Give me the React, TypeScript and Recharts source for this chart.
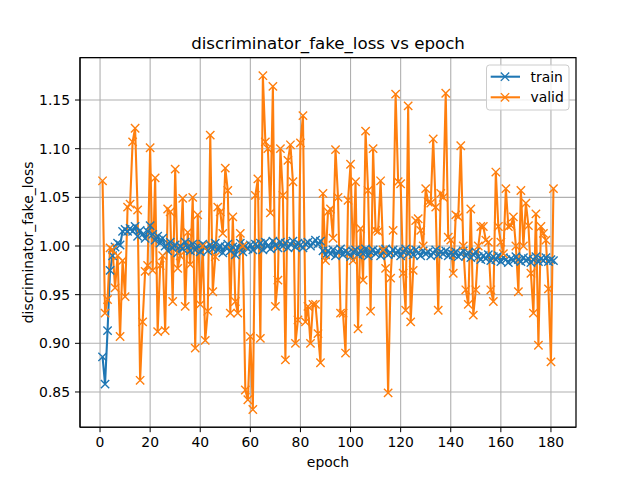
import { LineChart, Line, XAxis, YAxis, CartesianGrid, ReferenceArea } from "recharts"

// loss per epoch
const trainLoss = [
  0.886, 0.858, 0.913, 0.975, 0.990, 0.999, 1.003, 1.001, 1.015, 1.017,
  1.015, 1.018, 1.015, 1.020, 1.010, 1.016, 1.012, 1.008, 1.015, 1.021,
  1.012, 1.006, 1.010, 1.003, 1.008, 1.000, 0.995, 1.004, 0.998, 1.001,
  0.993, 1.000, 0.997, 1.004, 0.999, 0.995, 1.002, 0.996, 1.000, 0.994,
  1.002, 0.998, 0.995, 1.001, 0.997, 1.003, 0.996, 1.000, 0.993, 0.999,
  1.002, 0.995, 0.999, 0.991, 0.998, 1.003, 0.994, 1.000, 0.997, 1.001,
  0.996, 1.002, 0.999, 1.003, 0.996, 1.004, 1.000, 0.997, 1.005, 1.001,
  0.998, 1.004, 1.000, 1.003, 0.998, 1.002, 1.005, 0.999, 1.003, 1.001,
  0.998, 1.002, 1.004, 1.000, 1.003, 1.006, 1.002, 1.005, 0.995, 0.991,
  0.995, 0.992, 0.996, 0.990, 0.994, 0.997, 0.991, 0.995, 0.993, 0.989,
  0.994, 0.996, 0.991, 0.995, 0.992, 0.997, 0.990, 0.994, 0.996, 0.992,
  0.995, 0.990, 0.994, 0.997, 0.991, 0.993, 0.996, 0.992, 0.995, 0.990,
  0.994, 0.997, 0.992, 0.995, 0.991, 0.996, 0.993, 0.990, 0.995, 0.992,
  0.994, 0.990, 0.993, 0.996, 0.991, 0.994, 0.992, 0.995, 0.990, 0.993,
  0.991, 0.994, 0.989, 0.992, 0.995, 0.990, 0.993, 0.988, 0.991, 0.994,
  0.989, 0.986, 0.990, 0.987, 0.991, 0.985, 0.989, 0.986, 0.990, 0.984,
  0.988, 0.986, 0.983, 0.987, 0.985, 0.989, 0.986, 0.984, 0.988, 0.985,
  0.987, 0.983, 0.986, 0.989, 0.984, 0.987, 0.985, 0.988, 0.984, 0.986,
  0.985,
]

const validLoss = [
  1.067, 0.931, 0.945, 0.998, 0.996, 0.957, 0.990, 0.907, 0.985, 0.948,
  1.040, 1.043, 1.107, 1.121, 1.037, 0.862, 0.922, 0.974, 0.980, 1.101,
  0.975, 1.070, 0.912, 0.980, 0.990, 0.913, 1.038, 1.035, 0.943, 1.079,
  0.977, 0.990, 1.049, 0.938, 1.014, 0.981, 1.050, 0.895, 1.032, 0.940,
  1.000, 0.903, 0.933, 1.114, 0.953, 0.989, 1.040, 1.035, 1.013, 1.080,
  1.057, 0.931, 1.030, 0.943, 0.931, 1.013, 1.000, 0.852, 0.842, 0.907,
  0.832, 1.052, 1.069, 0.905, 1.175, 1.107, 1.100, 1.034, 1.164, 0.938,
  0.965, 1.100, 1.052, 0.883, 1.088, 1.104, 1.066, 0.900, 0.924, 1.106,
  1.134, 0.922, 0.938, 0.900, 0.940, 0.940, 0.910, 0.880, 1.054, 0.985,
  1.035, 1.038, 1.008, 1.099, 1.050, 0.931, 0.931, 0.890, 1.047, 1.084,
  0.985, 1.066, 0.915, 1.018, 0.965, 1.118, 1.057, 0.933, 1.100, 1.016,
  1.015, 1.067, 0.996, 0.977, 0.849, 0.967, 1.016, 1.156, 1.066, 1.064,
  0.972, 0.934, 1.144, 0.922, 0.975, 1.026, 1.028, 1.016, 1.000, 1.059,
  1.045, 1.044, 1.110, 1.040, 0.934, 1.054, 1.050, 1.157, 1.009, 1.006,
  0.972, 1.032, 1.030, 1.103, 1.000, 0.955, 0.940, 1.038, 0.929, 0.955,
  1.000, 1.020, 1.020, 1.006, 1.004, 0.955, 0.943, 1.076, 1.020, 1.004,
  0.992, 1.059, 1.020, 1.021, 1.030, 1.000, 0.953, 1.057, 1.000, 1.044,
  1.021, 0.972, 0.931, 1.033, 0.898, 1.020, 1.013, 1.006, 0.956, 0.881,
  1.059,
]

const epochs = trainLoss.map((_, i) => i + 1)
const xTicks = [0, 20, 40, 60, 80, 100, 120, 140, 160, 180]
const yTicks = [0.85, 0.9, 0.95, 1.0, 1.05, 1.1, 1.15]

const data = epochs.map((epoch, i) => ({
  epoch,
  train: trainLoss[i],
  valid: validLoss[i],
}))

const X_DOMAIN: [number, number] = [-8, 190]
const Y_DOMAIN: [number, number] = [0.8138, 1.1936]

const FONT = "'DejaVu Sans', sans-serif"
const BLUE = "#1f77b4"
const ORANGE = "#ff7f0e"

function XMarker(props: any) {
  const { cx, cy, stroke, index } = props
  if (cx == null || cy == null) return <g key={index} />
  const r = 4.17
  return (
    <path
      key={index}
      d={`M${cx - r},${cy - r}L${cx + r},${cy + r}M${cx - r},${cy + r}L${cx + r},${cy - r}`}
      stroke={stroke}
      strokeWidth={1.4}
      fill="none"
    />
  )
}

function LegendRow({ y, color, label }: { y: number; color: string; label: string }) {
  const r = 4.17
  const cx = 18.5
  return (
    <g>
      <line x1={4.2} y1={y} x2={33.5} y2={y} stroke={color} strokeWidth={2.08} />
      <path
        d={`M${cx - r},${y - r}L${cx + r},${y + r}M${cx - r},${y + r}L${cx + r},${y - r}`}
        stroke={color}
        strokeWidth={1.4}
      />
      <text x={44} y={y} dominantBaseline="central" fontSize={13.9} fill="#000">
        {label}
      </text>
    </g>
  )
}

export default function App() {
  const tickStyle = { fontSize: 13.9, fill: "#000", fontFamily: FONT }
  return (
    <div style={{ position: "absolute", left: 0, top: 0, width: 640, height: 480, background: "#fff", fontFamily: FONT }}>
      <LineChart width={640} height={480} data={data} margin={{ top: 57.6, right: 64, bottom: 22.8, left: 20 }}>
        <CartesianGrid stroke="#b0b0b0" strokeWidth={1.1} />
        <XAxis
          dataKey="epoch"
          type="number"
          domain={X_DOMAIN}
          ticks={xTicks}
          allowDataOverflow
          height={30}
          tick={tickStyle}
          tickSize={5}
          tickMargin={5}
          tickLine={{ stroke: "#000" }}
          axisLine={{ stroke: "#000" }}
        />
        <YAxis
          type="number"
          domain={Y_DOMAIN}
          ticks={yTicks}
          allowDataOverflow
          width={60}
          tick={tickStyle}
          tickSize={5}
          tickMargin={5}
          tickLine={{ stroke: "#000" }}
          axisLine={{ stroke: "#000" }}
          tickFormatter={(v: number) => v.toFixed(2)}
        />
        <Line
          dataKey="train"
          stroke={BLUE}
          strokeWidth={2.08}
          dot={XMarker}
          activeDot={false}
          isAnimationActive={false}
        />
        <Line
          dataKey="valid"
          stroke={ORANGE}
          strokeWidth={2.08}
          dot={XMarker}
          activeDot={false}
          isAnimationActive={false}
        />
        <ReferenceArea
          x1={X_DOMAIN[0]}
          x2={X_DOMAIN[1]}
          y1={Y_DOMAIN[0]}
          y2={Y_DOMAIN[1]}
          fill="none"
          fillOpacity={0}
          stroke="#000"
          strokeWidth={1.1}
          ifOverflow="visible"
        />
      </LineChart>
      <svg width={640} height={480} style={{ position: "absolute", left: 0, top: 0, pointerEvents: "none" }}>
        <text x={328} y={49.3} textAnchor="middle" fontSize={16.67} fill="#000" fontFamily={FONT}>
          discriminator_fake_loss vs epoch
        </text>
        <text x={328} y={467} textAnchor="middle" fontSize={13.9} fill="#000" fontFamily={FONT}>
          epoch
        </text>
        <text
          x={28.5}
          y={242.4}
          textAnchor="middle"
          dominantBaseline="central"
          fontSize={13.9}
          fill="#000"
          fontFamily={FONT}
          transform="rotate(-90 28.5 242.4)"
        >
          discriminator_fake_loss
        </text>
        <g transform="translate(486.5,65)" fontFamily={FONT}>
          <rect x={0} y={0} width={82.5} height={45} rx={3} fill="#fff" fillOpacity={0.8} stroke="#cccccc" strokeWidth={1} />
          <LegendRow y={11.7} color={BLUE} label="train" />
          <LegendRow y={32.3} color={ORANGE} label="valid" />
        </g>
      </svg>
    </div>
  )
}
